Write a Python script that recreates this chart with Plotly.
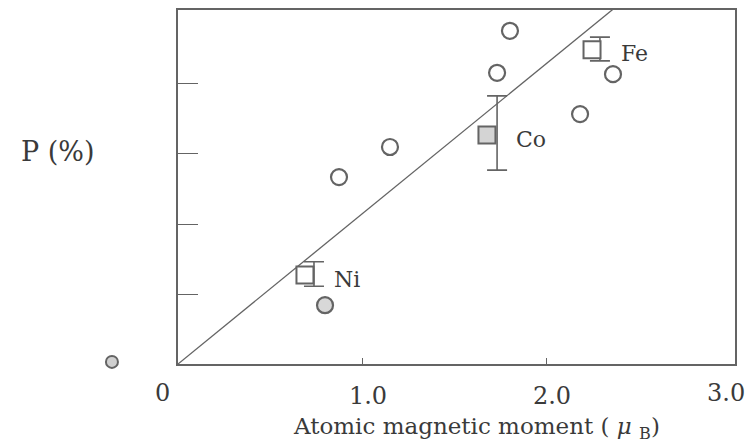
import plotly.graph_objects as go

# ---- data ----
open_x = [0.875, 1.152, 1.734, 1.804, 2.185, 2.364]
open_y = [26.7, 31.0, 41.6, 47.6, 35.7, 41.4]

gray_x = [0.799]
gray_y = [8.4]

outlier_x = [-0.359]
outlier_y = [0.3]

elements = ["Ni", "Co", "Fe"]
sq_x = [0.690, 1.679, 2.250]
sq_y = [12.7, 32.7, 44.9]
sq_fill = ["white", "#d4d4d4", "white"]

err_x = [0.739, 1.734, 2.293]
err_y = [12.85, 33.0, 45.0]
err_plus = [1.75, 5.3, 1.7]
err_minus = [1.75, 5.3, 1.7]

fit_x = [0.0, 2.4]
fit_y = [0.0, 51.45]

# inner tick labels drawn by the axis, edge labels as annotations
x_tickvals = [1, 2]
x_ticktext = ["1.0", "2.0"]
x_edge_vals = [0, 3]
x_edge_text = ["0", "3.0"]
y_tickvals = [10, 20, 30, 40]

X_RANGE = [0, 3.027]
X2_RANGE = [-0.6413, 3.027]
Y_RANGE = [0, 50.57]

# ---- styles ----
INK = "#3a3a3a"
LINE = "#646464"
SERIF = "DejaVu Serif, Liberation Serif, serif"
EDGE_SHIFT = [-15, -4]

fig = go.Figure()

fig.add_trace(go.Scatter(
    x=fit_x, y=fit_y, mode="lines",
    line=dict(color=LINE, width=1.3), showlegend=False, hoverinfo="skip"))

fig.add_trace(go.Scatter(
    x=err_x, y=err_y, mode="markers",
    marker=dict(size=1, color="rgba(0,0,0,0)"),
    error_y=dict(type="data", array=err_plus, arrayminus=err_minus,
                 color=LINE, thickness=1.6, width=10),
    showlegend=False, hoverinfo="skip"))

fig.add_trace(go.Scatter(
    x=open_x, y=open_y, mode="markers",
    marker=dict(symbol="circle", size=16, color="white",
                line=dict(color=LINE, width=2.2)),
    showlegend=False))

fig.add_trace(go.Scatter(
    x=gray_x, y=gray_y, mode="markers",
    marker=dict(symbol="circle", size=16, color="#d8d8d8",
                line=dict(color=LINE, width=2.2)),
    showlegend=False))

fig.add_trace(go.Scatter(
    x=sq_x, y=sq_y, mode="markers",
    marker=dict(symbol="square", size=17, color=sq_fill,
                line=dict(color=LINE, width=2)),
    showlegend=False))

# point left of the frame, drawn on an invisible wider x axis
fig.add_trace(go.Scatter(
    x=outlier_x, y=outlier_y, mode="markers", cliponaxis=False,
    xaxis="x2", yaxis="y",
    marker=dict(symbol="circle", size=12, color="#d0d0d0",
                line=dict(color=LINE, width=2)),
    showlegend=False))

annotations = []
for name, x, y in zip(elements, sq_x, sq_y):
    annotations.append(dict(x=x, y=y, text=name, showarrow=False,
                            xanchor="left", yanchor="middle", xshift=27, yshift=-4,
                            font=dict(family=SERIF, size=22, color=INK)))

for val, txt, sh in zip(x_edge_vals, x_edge_text, EDGE_SHIFT):
    annotations.append(dict(x=val, y=-0.0819, xref="x", yref="paper", text=txt,
                            showarrow=False, xanchor="center", yanchor="middle",
                            xshift=sh, font=dict(family=SERIF, size=24, color=INK)))

annotations.append(dict(x=-0.0044, y=0.599, xref="paper", yref="paper", text="P (%)",
                        showarrow=False, xanchor="center", yanchor="middle",
                        font=dict(family=SERIF, size=27, color=INK)))
annotations.append(dict(x=0.617, y=-0.181, xref="paper", yref="paper",
                        text="Atomic magnetic moment ( <i>μ</i> <sub>B</sub>)",
                        showarrow=False, xanchor="center", yanchor="middle",
                        font=dict(family=SERIF, size=23, color=INK)))

# the page body has an 8 px margin, so the figure is sized to fit the window
fig.update_layout(
    width=745, height=438,
    margin=dict(l=52, r=18, t=2, b=82),
    paper_bgcolor="white", plot_bgcolor="rgba(0,0,0,0)",
    annotations=annotations,
    xaxis=dict(
        domain=[0.17481, 1], range=X_RANGE, automargin=False,
        showgrid=False, zeroline=False,
        showline=True, linecolor=LINE, linewidth=1.6, mirror=True,
        tickvals=x_tickvals, ticktext=x_ticktext, ticks="",
        ticklabelshift=6, ticklabelstandoff=9,
        tickfont=dict(family=SERIF, size=24, color=INK),
        minor=dict(tickvals=[1, 2], ticks="inside", ticklen=6,
                   tickcolor=LINE, tickwidth=1.3),
    ),
    xaxis2=dict(
        domain=[0, 1], range=X2_RANGE, anchor="y",
        visible=False, automargin=False,
    ),
    yaxis=dict(
        range=Y_RANGE, automargin=False, anchor="x",
        showgrid=False, zeroline=False,
        showline=True, linecolor=LINE, linewidth=1.6, mirror=True,
        tickvals=y_tickvals, ticks="inside", ticklen=20,
        tickcolor=LINE, tickwidth=1.4, showticklabels=False,
    ),
)

fig.write_html("out.html")
